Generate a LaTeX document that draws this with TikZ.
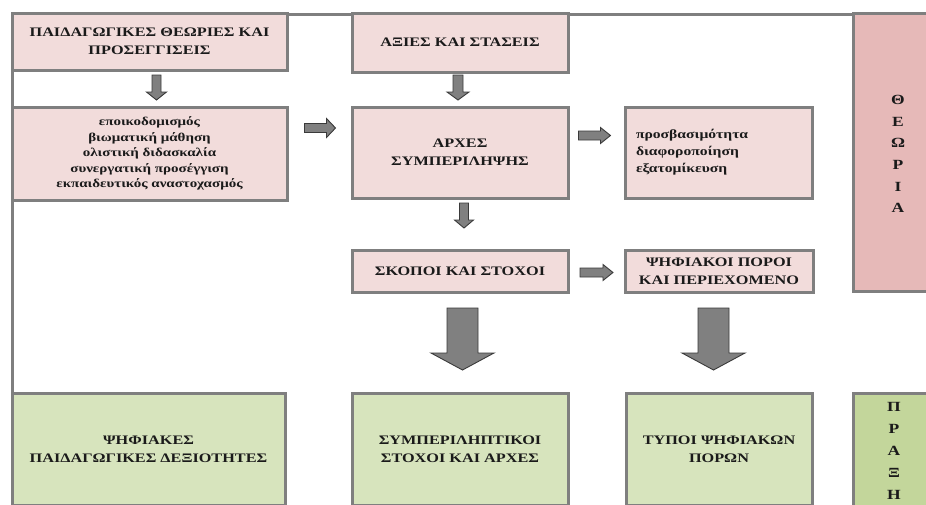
\documentclass[tikz,border=0pt]{standalone}
\usepackage{fontspec}
\setmainfont{Liberation Serif}
\newfontfamily\grw{Liberation Serif}[FakeStretch=1.25]
\usetikzlibrary{calc}
\definecolor{pinkfill}{HTML}{F2DCDB}
\definecolor{pinkdark}{HTML}{E6B9B8}
\definecolor{greenfill}{HTML}{D7E4BD}
\definecolor{greendark}{HTML}{C3D69B}
\definecolor{bordergray}{HTML}{7F7F7F}
\definecolor{arrowgray}{HTML}{808080}
\definecolor{arrowdark}{HTML}{3A3A3A}
\definecolor{txt}{HTML}{1A1A1A}
\tikzset{
  box/.style={rectangle, draw=bordergray, line width=3pt, inner sep=2pt, align=center, text=txt},
  pinkbox/.style={box, fill=pinkfill},
  greenbox/.style={box, fill=greenfill},
  capsfont/.style={font=\grw\bfseries\fontsize{13}{18}\selectfont},
  smallfont/.style={font=\grw\bfseries\fontsize{12}{15.5}\selectfont},
  blockarr/.style={draw=arrowdark, fill=arrowgray, line width=0.9pt, line join=miter},
  frame/.style={draw=bordergray, line width=3pt}
}
% #1 centre coordinate, #2 half shaft, #3 half head, #4 length, #5 head length
\newcommand\arrdown[5]{%
  \draw[blockarr, shift={(#1)}] (-#2,-#4/2) -- (#2,-#4/2) -- (#2,#4/2-#5) -- (#3,#4/2-#5)
    -- (0,#4/2) -- (-#3,#4/2-#5) -- (-#2,#4/2-#5) -- cycle;}
\newcommand\arrright[5]{%
  \draw[blockarr, shift={(#1)}] (-#4/2,-#2) -- (-#4/2,#2) -- (#4/2-#5,#2) -- (#4/2-#5,#3)
    -- (#4/2,0) -- (#4/2-#5,-#3) -- (#4/2-#5,-#2) -- cycle;}
\begin{document}
\begin{tikzpicture}[x=1pt,y=-1pt]
\useasboundingbox (0,0) rectangle (926,504);
\clip (0,0) rectangle (926,504);
\fill[white] (0,0) rectangle (926,504);
% frame lines
\coordinate (fl) at (12,505);
\coordinate (ftl) at (12,14);
\coordinate (ftr) at (930,14);
\draw[frame] (fl) -- (ftl) -- (ftr);
% theory boxes
\node[pinkbox, capsfont, minimum width=275pt, minimum height=57pt] (A) at (149.5,41.5)
  {ΠΑΙΔΑΓΩΓΙΚΕΣ ΘΕΩΡΙΕΣ ΚΑΙ\\ΠΡΟΣΕΓΓΙΣΕΙΣ};
\node[pinkbox, smallfont, minimum width=275pt, minimum height=93pt] (B) at (149.5,153.5)
  {εποικοδομισμός\\βιωματική μάθηση\\ολιστική διδασκαλία\\συνεργατική προσέγγιση\\εκπαιδευτικός αναστοχασμός};
\node[pinkbox, capsfont, minimum width=216pt, minimum height=59pt] (C) at (460,42.5)
  {ΑΞΙΕΣ ΚΑΙ ΣΤΑΣΕΙΣ};
\node[pinkbox, capsfont, minimum width=216pt, minimum height=91pt] (D) at (460,152.5)
  {ΑΡΧΕΣ\\ΣΥΜΠΕΡΙΛΗΨΗΣ};
\node[pinkbox, font=\grw\bfseries\fontsize{12.5}{17}\selectfont, align=left, minimum width=187pt, minimum height=91pt, text width=165pt] (E) at (718.5,152.5)
  {προσβασιμότητα\\διαφοροποίηση\\εξατομίκευση};
\node[pinkbox, capsfont, minimum width=216pt, minimum height=42pt] (F) at (460,271)
  {ΣΚΟΠΟΙ ΚΑΙ ΣΤΟΧΟΙ};
\node[pinkbox, capsfont, minimum width=188pt, minimum height=42pt] (G) at (719,271)
  {ΨΗΦΙΑΚΟΙ ΠΟΡΟΙ\\ΚΑΙ ΠΕΡΙΕΧΟΜΕΝΟ};
\node[box, fill=pinkdark, minimum width=87pt, minimum height=278pt] (TH) at (896.5,152) {};
\node[font=\grw\bfseries\fontsize{14}{21.7}\selectfont, align=center, text=txt] (THT) at (898,154)
  {Θ\\Ε\\Ω\\Ρ\\Ι\\Α};
% practice boxes
\node[greenbox, capsfont, minimum width=273pt, minimum height=112pt] (P1) at (148.5,449)
  {ΨΗΦΙΑΚΕΣ\\ΠΑΙΔΑΓΩΓΙΚΕΣ ΔΕΞΙΟΤΗΤΕΣ};
\node[greenbox, capsfont, minimum width=216pt, minimum height=112pt] (P2) at (460,449)
  {ΣΥΜΠΕΡΙΛΗΠΤΙΚΟΙ\\ΣΤΟΧΟΙ ΚΑΙ ΑΡΧΕΣ};
\node[greenbox, capsfont, minimum width=186pt, minimum height=112pt] (P3) at (719,449)
  {ΤΥΠΟΙ ΨΗΦΙΑΚΩΝ\\ΠΟΡΩΝ};
\node[box, fill=greendark, minimum width=87pt, minimum height=140pt] (PR) at (896.5,463) {};
\node[font=\grw\bfseries\fontsize{14}{22}\selectfont, align=center, text=txt, anchor=north] (PRT) at (894,399)
  {Π\\Ρ\\Α\\Ξ\\Η};
% arrow anchor coordinates, placed between the named boxes
\coordinate (a1) at ($(A.south)!0.5!(B.north)+(7,-1)$);
\coordinate (a2) at ($(C.south)!0.5!(D.north)+(-2,-2)$);
\coordinate (a3) at ($(B.east)!0.5!(D.west)+(0.5,-25)$);
\coordinate (a4) at ($(D.east)!0.5!(E.west)+(-2,-17)$);
\coordinate (a5) at ($(D.south)!0.5!(F.north)+(4,-8.5)$);
\coordinate (a6) at ($(F.east)!0.5!(G.west)+(0,1.5)$);
\coordinate (b1) at ($(F.south)!0.5!(P2.north)+(2.5,-3.5)$);
\coordinate (b2) at ($(G.south)!0.5!(P3.north)+(-5.5,-3.5)$);
% small arrows
\arrdown{a1}{4.5}{10}{25}{8}
\arrdown{a2}{5}{11}{25}{8}
\arrright{a3}{4.5}{9.5}{31}{9}
\arrright{a4}{4.5}{8}{32}{10}
\arrdown{a5}{4.5}{9.5}{25}{8}
\arrright{a6}{4.5}{8}{33}{10}
% big arrows
\arrdown{b1}{15.5}{31.5}{62}{17}
\arrdown{b2}{15.5}{31.5}{62}{17}
\end{tikzpicture}
\end{document}
